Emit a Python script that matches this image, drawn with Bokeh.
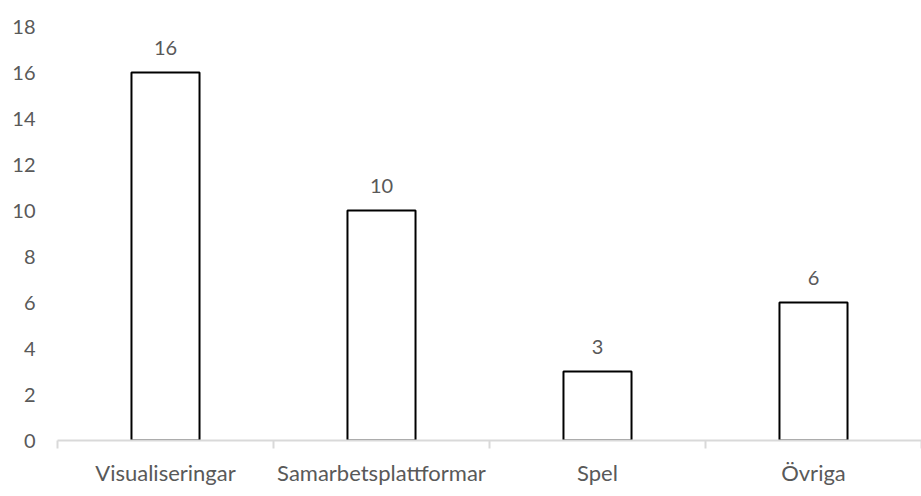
from bokeh.plotting import figure
from bokeh.models import ColumnDataSource, FixedTicker, LabelSet, Range1d
from bokeh.core.properties import value
from bokeh.embed import file_html
from bokeh.resources import INLINE

categories = ["Visualiseringar", "Samarbetsplattformar", "Spel", "Övriga"]
values = [16, 10, 3, 6]
y_ticks = [0, 2, 4, 6, 8, 10, 12, 14, 16, 18]

FONT = "Lato"
TXT = "#595959"

xs = [i + 0.5 for i in range(len(categories))]
src = ColumnDataSource(dict(x=xs, top=values, label=[str(v) for v in values]))

p = figure(width=921, height=496, output_backend="svg", toolbar_location=None,
           x_range=Range1d(0, len(categories)), y_range=Range1d(0, 18))
p.min_border_left = 57
p.min_border_right = 0
p.min_border_top = 26
p.min_border_bottom = 56
p.outline_line_color = None
p.grid.visible = False
p.background_fill_color = "white"
p.border_fill_color = "white"

p.vbar(x="x", top="top", width=0.315, source=src, fill_color="white",
       line_color="black", line_width=2)

labels = LabelSet(x="x", y="top", text="label", source=src, text_align="center",
                  text_baseline="bottom", y_offset=18, text_font=value(FONT),
                  text_font_size="20px", text_color=TXT)
p.add_layout(labels)

xa = p.xaxis[0]
xa.ticker = FixedTicker(ticks=xs, minor_ticks=list(range(len(categories) + 1)))
xa.major_label_overrides = {x: c for x, c in zip(xs, categories)}
xa.major_tick_line_color = None
xa.major_tick_out = 0
xa.major_tick_in = 0
xa.minor_tick_out = 8
xa.minor_tick_in = 0
xa.minor_tick_line_color = "#d9d9d9"
xa.minor_tick_line_width = 2
xa.axis_line_color = "#d9d9d9"
xa.axis_line_width = 2
xa.major_label_standoff = 10
xa.major_label_text_font = FONT
xa.major_label_text_font_size = "22px"
xa.major_label_text_color = TXT

ya = p.yaxis[0]
ya.ticker = FixedTicker(ticks=y_ticks)
ya.axis_line_color = None
ya.major_tick_line_color = None
ya.minor_tick_line_color = None
ya.major_tick_out = 0
ya.major_tick_in = 0
ya.major_label_standoff = 22
ya.major_label_text_font = FONT
ya.major_label_text_font_size = "20px"
ya.major_label_text_color = TXT

open("out.html", "w").write(file_html(p, INLINE))
